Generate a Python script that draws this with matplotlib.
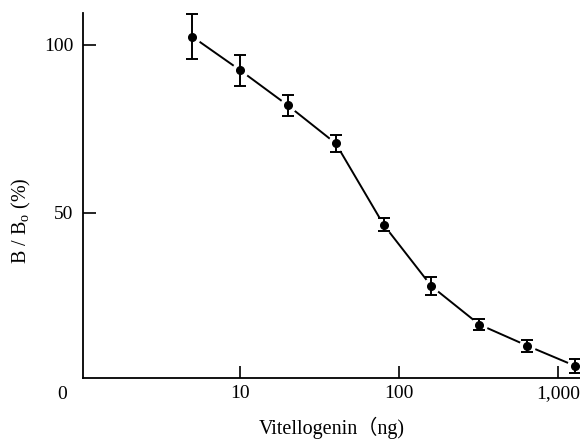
import matplotlib
matplotlib.use("Agg")
import matplotlib.pyplot as plt

plt.rcParams['font.family'] = ['Liberation Serif', 'Noto Sans CJK SC', 'DejaVu Serif']
plt.rcParams['mathtext.fontset'] = 'custom'
plt.rcParams['mathtext.rm'] = 'Liberation Serif'

vitellogenin_ng = [5, 10, 20, 40, 80, 160, 320, 640, 1280]
b_over_b0 = [102.5, 92.5, 82.0, 70.7, 46.5, 28.2, 16.8, 10.5, 4.5]
err = [6.7, 4.6, 3.0, 2.5, 1.9, 2.7, 1.6, 1.8, 2.1]

x_ticks = [10, 100, 1000]
x_tick_labels = ['10', '100', '1,000']
y_ticks = [50, 100]
y_tick_labels = ['50', '100']

fig = plt.figure(figsize=(5.8, 4.44), dpi=100)
ax = fig.add_axes([83/580, 1-378/444, (580-83)/580, (378-13)/444])

ax.plot(vitellogenin_ng, b_over_b0, color='black', lw=1.4, zorder=1, clip_on=False)
ax.plot(vitellogenin_ng, b_over_b0, 'o', color='white', ms=11, zorder=2, clip_on=False)
ax.errorbar(vitellogenin_ng, b_over_b0, yerr=err, fmt='o', color='black', ms=5.5,
            elinewidth=1.4, capsize=4.3, capthick=1.4, zorder=3, clip_on=False)

ax.set_xscale('log')
ax.set_xlim(1.03, 1374)
ax.set_ylim(0.9, 109.5)
ax.set_xticks(x_ticks)
ax.set_xticklabels(x_tick_labels)
ax.minorticks_off()
ax.set_yticks(y_ticks)
ax.set_yticklabels(y_tick_labels)
ax.tick_params(direction='in', length=9, width=1.2, labelsize=14, pad=5)
ax.tick_params(axis='y', pad=7)
for s in ['top', 'right']:
    ax.spines[s].set_visible(False)
for s in ['left', 'bottom']:
    ax.spines[s].set_linewidth(1.3)

ax.text(-0.042, -0.023, '0', transform=ax.transAxes, ha='center', va='top', fontsize=14)
ax.set_xlabel('Vitellogenin（ng)', fontsize=14.5, labelpad=11)
ax.set_ylabel(r'B / B$_{\mathregular{o}}$ (%)', fontsize=14.5)
ax.yaxis.set_label_coords(-0.1, 0.43)

fig.savefig('out.png', dpi=100)
